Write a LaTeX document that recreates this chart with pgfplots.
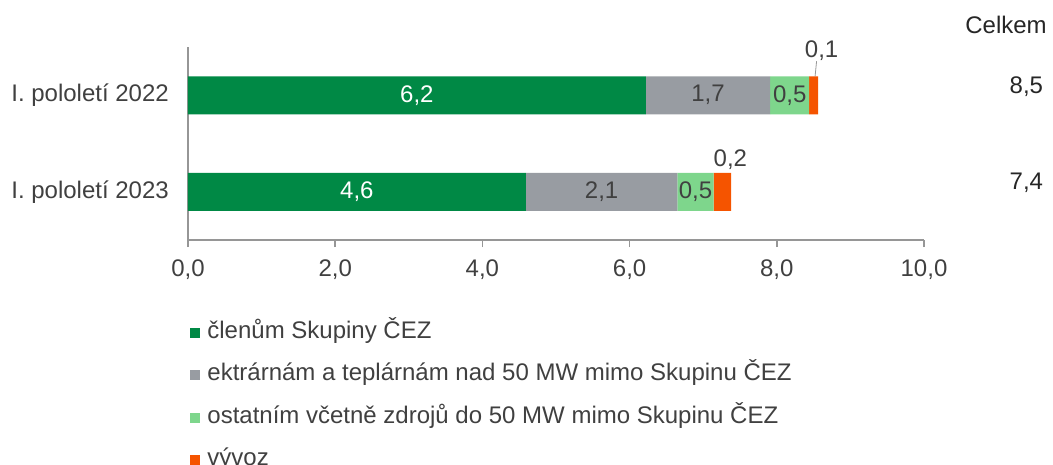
\documentclass[border=0pt]{standalone}
\usepackage{fontspec}
\setmainfont{Liberation Sans}
\usepackage{pgfplots}
\usepackage{pgfplotstable}
\pgfplotsset{compat=1.18}
\definecolor{cDark}{RGB}{0,137,69}
\definecolor{cGray}{RGB}{152,156,162}
\definecolor{cLight}{RGB}{126,214,140}
\definecolor{cOrange}{RGB}{245,84,0}
\definecolor{cText}{RGB}{64,64,64}
\definecolor{cAxis}{RGB}{150,150,150}
\newcommand{\F}{\fontsize{24}{28}\selectfont}
\pgfplotstableread{
y v l
1 6.22 6,2
0 4.59 4,6
}\tA
\pgfplotstableread{
y v l
1 1.69 1,7
0 2.06 2,1
}\tB
\pgfplotstableread{
y v l
1 0.53 0,5
0 0.49 0,5
}\tC
\pgfplotstableread{
y v l s
1 0.12 0,1 38
0 0.24 0,2 25.5
}\tD
\begin{document}
\F
\begin{tikzpicture}
\path[use as bounding box] (0pt,0pt) rectangle (1053pt,-464pt);
\begin{axis}[
  at={(188pt,-240pt)}, anchor=south west,
  scale only axis, width=736pt, height=193pt,
  xmin=0, xmax=10, ymin=-0.5, ymax=1.5,
  xbar stacked, bar width=38pt,
  axis x line*=bottom, axis y line*=left,
  axis line style={draw=cAxis, line width=1.5pt, -},
  xtick={0,2,...,10}, ytick={0,1},
  yticklabels={I. pololetí 2023, I. pololetí 2022},
  x tick style={draw=cAxis, line width=1.5pt},
  y tick style={draw=none},
  major tick length=7pt, tick align=outside,
  xticklabel style={yshift=-5pt, /pgf/number format/.cd, fixed, fixed zerofill, precision=1, use comma, assume math mode=true},
  tick label style={font=\F, text=cText},
  yticklabel style={xshift=-4pt},
  clip=false,
  nodes near coords, point meta=explicit symbolic,
  every node near coord/.append style={font=\F, text=cText, anchor=center},
  legend style={at={(0.003,-0.42)}, anchor=north west, draw=none, fill=none, font=\F, text=cText, row sep=19.5pt, inner sep=0pt,
    nodes={text height=17pt, text depth=6pt, inner ysep=0pt},
    /tikz/every odd column/.append style={column sep=5pt}},
  legend cell align=left,
  legend image code/.code={\path[#1, draw=none] (0pt,-5pt) rectangle (10pt,5pt);},
]
\addplot[fill=cDark, draw=none, every node near coord/.append style={text=white}] table[x=v, y=y, meta=l] {\tA};
\addplot[fill=cGray, draw=none] table[x=v, y=y, meta=l] {\tB};
\addplot[fill=cLight, draw=none] table[x=v, y=y, meta=l] {\tC};
\addplot[fill=cOrange, draw=none, visualization depends on={\thisrow{s} \as \ys},
  every node near coord/.append style={anchor=base, xshift=8pt, yshift=\ys}] table[x=v, y=y, meta=l] {\tD};
\legend{členům Skupiny ČEZ, ektrárnám a teplárnám nad 50 MW mimo Skupinu ČEZ, ostatním včetně zdrojů do 50 MW mimo Skupinu ČEZ, vývoz}
\draw[cAxis, line width=0.8pt] ([yshift=19pt]axis cs:8.52,1) -- ([xshift=1.5pt,yshift=34pt]axis cs:8.52,1);
\node[anchor=east, inner sep=0pt, text=black!85, font=\F] at (axis cs:11.62,1.093) {8,5};
\node[anchor=east, inner sep=0pt, text=black!85, font=\F] at (axis cs:11.62,0.098) {7,4};
\node[anchor=east, inner sep=0pt, text=black!85, font=\F] at (axis cs:11.67,1.725) {Celkem};
\end{axis}
\end{tikzpicture}
\end{document}
